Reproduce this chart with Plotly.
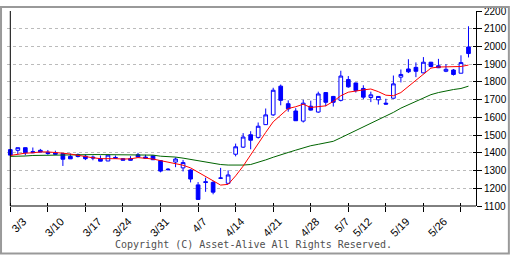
import plotly.graph_objects as go

# ---- data ----
opens  = [1418,1414,1429,1407,1414,1403,1399,1396,1380,1390,1381,1376,1367,1354,1374,1367,1367,1389,1376,1383,
          1356,1308,1348,1315,1303,1219,1237,1233,1258,1228,1392,1432,1502,1487,1559,1614,1776,1677,1636,1579,
          1663,1630,1740,1718,1696,1813,1794,1763,1712,1699,1680,1708,1827,1873,1882,1851,1911,1891,1860,1867,
          1849,1997]
highs  = [1420,1429,1430,1430,1422,1416,1412,1398,1396,1396,1390,1385,1385,1389,1385,1369,1381,1400,1389,1385,
          1358,1314,1374,1360,1307,1235,1260,1242,1315,1301,1452,1511,1522,1571,1650,1767,1785,1696,1652,1699,
          1694,1745,1742,1721,1863,1833,1796,1781,1745,1720,1705,1836,1870,1928,1910,1940,1913,1930,1900,1873,
          1950,2114]
lows   = [1386,1392,1386,1398,1403,1389,1389,1326,1365,1374,1359,1358,1352,1353,1367,1357,1357,1374,1367,1359,
          1290,1301,1319,1295,1233,1135,1180,1166,1255,1226,1380,1427,1420,1480,1557,1608,1668,1632,1580,1571,
          1638,1626,1663,1661,1690,1767,1740,1703,1686,1672,1673,1706,1797,1850,1827,1849,1882,1878,1855,1836,
          1849,1938]
closes = [1387,1429,1401,1401,1404,1396,1392,1364,1366,1379,1367,1371,1353,1387,1370,1358,1358,1376,1370,1361,
          1297,1305,1365,1345,1252,1137,1233,1178,1257,1275,1434,1489,1471,1550,1614,1753,1696,1648,1581,1680,
          1641,1732,1685,1685,1833,1772,1751,1714,1727,1718,1675,1789,1842,1857,1860,1911,1887,1880,1871,1842,
          1909,1960]
ma_short = [1385,1392,1398,1400,1405,1405,1403,1398,1393,1385,1376,1372,1367,1369,1367,1365,1366,1373,1369,1365,
            1356,1346,1340,1330,1315,1290,1268,1240,1218,1222,1270,1325,1390,1450,1515,1575,1610,1650,1660,1674,
            1656,1660,1665,1690,1722,1742,1750,1755,1760,1745,1725,1722,1740,1775,1812,1848,1878,1884,1886,1886,
            1887,1895]
ma_long = [1380,1380,1382,1385,1386,1388,1389,1390,1390,1390,1390,1390,1390,1390,1390,1390,1390,1389,1388,1387,
           1381,1380,1376,1370,1362,1355,1348,1340,1334,1331,1330,1331,1334,1345,1360,1375,1390,1402,1415,1428,
           1440,1448,1456,1465,1485,1505,1528,1548,1565,1585,1605,1628,1652,1672,1692,1710,1728,1740,1750,1757,
           1763,1776]

date_labels = ["3/3","3/10","3/17","3/24","3/31","4/7","4/14","4/21","4/28","5/7","5/12","5/19","5/26"]
date_label_pos = [0,5,10,14,19,24,29,34,39,43,46,51,56]
tick_mark_pos = [0,5,10,15,20,25,30,35,40,45,50,55,60]
price_ticks = [1100,1200,1300,1400,1500,1600,1700,1800,1900,2000,2100,2200]

xs = list(range(len(opens)))
XR = [-0.44, 62.0]
YR = [1100, 2200]

BLUE = "#0000ff"

fig = go.Figure()
fig.add_trace(go.Candlestick(
    x=xs, open=opens, high=highs, low=lows, close=closes,
    increasing=dict(line=dict(color=BLUE, width=1), fillcolor="#ffffff"),
    decreasing=dict(line=dict(color=BLUE, width=1), fillcolor=BLUE),
    whiskerwidth=0, hoverinfo="skip", showlegend=False))
fig.add_trace(go.Scatter(x=xs, y=ma_long, mode="lines",
                         line=dict(color="#006400", width=1), hoverinfo="skip"))
fig.add_trace(go.Scatter(x=xs, y=ma_short, mode="lines",
                         line=dict(color="#ff0000", width=1), hoverinfo="skip"))
# helper traces so the overlay tick axes are drawn
fig.add_trace(go.Scatter(x=[None], y=[None], xaxis="x2", yaxis="y2", hoverinfo="skip"))
fig.add_trace(go.Scatter(x=[None], y=[None], xaxis="x3", yaxis="y2", hoverinfo="skip"))

W, H = 512, 256
ML, MR, MT, MB = 7, 34, 5, 50
PW, PH = W - ML - MR, H - MT - MB


def px(xp):
    return (xp - ML) / PW


def py(yp):
    return (H - MB - yp) / PH


yfont = dict(family="Liberation Sans", size=10, color="#000000")
xfont = dict(family="Liberation Sans", size=11, color="#000000")

fig.update_layout(
    width=W, height=H,
    margin=dict(l=ML, r=MR, t=MT, b=MB, pad=0),
    paper_bgcolor="#ffffff", plot_bgcolor="#ffffff",
    showlegend=False, hovermode=False,
    xaxis=dict(range=XR, tickmode="array", tickvals=date_label_pos, ticktext=date_labels,
               ticks="", tickangle=-45, ticklabelshift=13, ticklabelstandoff=6,
               showgrid=False, zeroline=False, showline=False, ticklabeloverflow="allow",
               rangeslider=dict(visible=False), tickfont=xfont, fixedrange=True),
    xaxis2=dict(overlaying="x", anchor="y", side="bottom", range=XR, tickmode="array",
                tickvals=tick_mark_pos, ticks="outside", ticklen=5, tickwidth=1, tickcolor="#000000",
                showticklabels=False, showgrid=False, zeroline=False, showline=False),
    xaxis3=dict(overlaying="x", anchor="y", side="bottom", range=XR, tickmode="array",
                tickvals=tick_mark_pos, ticks="inside", ticklen=3, tickwidth=1, tickcolor="#000000",
                showticklabels=False, showgrid=False, zeroline=False, showline=False),
    yaxis=dict(range=YR, side="right", tickmode="array", tickvals=price_ticks,
               ticks="outside", ticklen=5, tickwidth=1, tickcolor="#000000",
               showline=True, linecolor="#000000", linewidth=1, ticklabeloverflow="allow",
               showgrid=True, gridcolor="#bbbbbb", gridwidth=1, griddash="3px,3px",
               zeroline=False, tickfont=yfont, fixedrange=True),
    yaxis2=dict(overlaying="y", anchor="x", side="right", range=YR, tickmode="array",
                tickvals=price_ticks, ticks="inside", ticklen=3, tickwidth=1, tickcolor="#000000",
                showticklabels=False, showgrid=False, zeroline=False, showline=False),
    shapes=[
        # left frame line at first session
        dict(type="line", xref="x", yref="paper", x0=0, x1=0, y0=0, y1=1,
             line=dict(color="#000000", width=1)),
        # bottom axis line
        dict(type="line", xref="x", yref="paper", x0=0, x1=XR[1], y0=0, y1=0,
             line=dict(color="#000000", width=1)),
        # outer gray border of the image
        dict(type="rect", xref="paper", yref="paper", x0=px(1), x1=px(511), y0=py(255), y1=py(1),
             line=dict(color="#999999", width=2), fillcolor="rgba(0,0,0,0)", layer="above"),
    ],
    annotations=[
        dict(text="Copyright (C) Asset-Alive All Rights Reserved.", xref="paper", yref="paper",
             x=px(255), y=py(246), xanchor="center", yanchor="middle", showarrow=False,
             font=dict(family="DejaVu Sans Mono", size=10, color="#505050")),
    ],
)

fig.write_html("out.html")
